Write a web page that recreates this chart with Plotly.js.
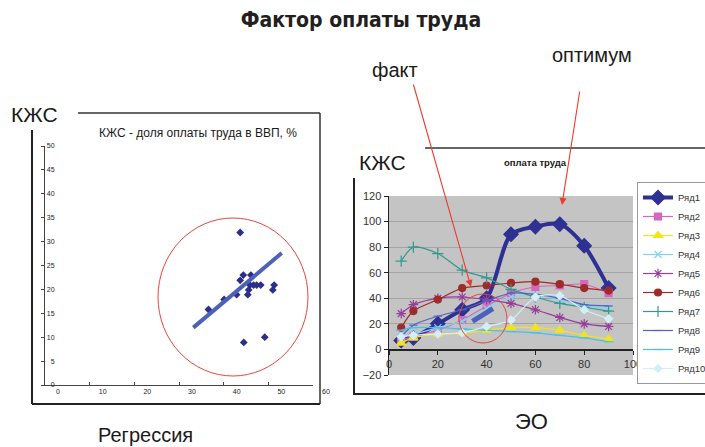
<!DOCTYPE html>
<html><head><meta charset="utf-8">
<script src="https://cdn.plot.ly/plotly-3.0.1.min.js"></script>
<style>html,body{margin:0;padding:0;background:#fff}#chart{width:705px;height:447px}</style>
</head><body><div id="chart"></div>
<script>
// ---- Left chart: regression scatter ----
const regX = [43.7, 36.6, 40.1, 42.9, 43.7, 44.4, 46.1, 45.9, 45.6, 45.4, 46.7, 47.4, 48.3, 51.0, 51.3, 44.5, 49.2];
const regY = [31.9, 15.8, 17.9, 18.9, 21.9, 23.0, 23.0, 20.9, 19.9, 18.9, 20.9, 20.9, 20.9, 19.9, 20.9, 8.9, 10.0];
const trendX = [33.2, 53.0];
const trendY = [12.0, 27.6];

// ---- Right chart: ЭО vs КЖС ----
const eoX = [5, 10, 20, 30, 40, 50, 60, 70, 80, 90];
const seriesNames = ['Ряд1','Ряд2','Ряд3','Ряд4','Ряд5','Ряд6','Ряд7','Ряд8','Ряд9','Ряд10'];
const r1  = [7, 9, 20, 31, 40, 90, 96, 98, 81, 48];
const r2  = [7, 10, 15, 23, 34, 44, 49, 50, 51, 44];
const r3  = [5, 9, 12, 13, 15, 17, 17, 15, 11, 8];
const r4  = [10, 12, 17, 22, 32, 41, 42, 39, 34, 32];
const r5  = [28, 35, 40, 41, 39, 36, 31, 25, 20, 18];
const r6  = [17, 30, 39, 48, 50, 52, 53, 51, 48, 46];
const r7  = [69, 80, 75, 62, 56, 47, 41, 36, 33, 30];
const r8  = [10, 19, 26, 31, 38, 44, 43, 40, 35, 34];
const r9  = [15, 17, 17, 16, 15, 14, 13, 11, 9, 6];
const r10 = [10, 11, 12, 13, 18, 23, 41, 42, 31, 24];
const factX = [34.2, 42.6];
const factY = [22, 32];

const tickLeftX = [0, 10, 20, 30, 40, 50, 60];
const tickRightX = [0, 20, 40, 60, 80, 100];

const W = 705, H = 447;
const px = v => v / W;
const py = v => 1 - v / H;
const FONT = 'Liberation Sans, Arial, sans-serif';

const styles = [
  {c:'#2e3192', w:4,   sym:'diamond',          ms:11},
  {c:'#d468bd', w:1.2, sym:'square',           ms:7},
  {c:'#f2e41c', w:1.2, sym:'triangle-up',      ms:8},
  {c:'#7fd6f0', w:1.2, sym:'x-thin-open',      ms:7},
  {c:'#963f99', w:1.2, sym:'asterisk-open',    ms:8},
  {c:'#9e2b2b', w:1.2, sym:'circle',           ms:7},
  {c:'#33998c', w:1.2, sym:'cross-thin-open',  ms:8},
  {c:'#5563c4', w:1.2, sym:'line-ew-open',     ms:6},
  {c:'#47c0ec', w:1.2, sym:'line-ew-open',     ms:7},
  {c:'#d4eef6', w:1.2, sym:'diamond',          ms:6}
];
const rows = [r1, r2, r3, r4, r5, r6, r7, r8, r9, r10];

const traces = [];
traces.push({x: regX, y: regY, type:'scatter', mode:'markers', xaxis:'x', yaxis:'y', showlegend:false,
  marker:{symbol:'diamond', size:6, color:'#2b2f87'}});
traces.push({x: trendX, y: trendY, type:'scatter', mode:'lines', xaxis:'x', yaxis:'y', showlegend:false,
  line:{color:'#4c62b8', width:4}});
rows.forEach((r, i) => {
  const s = styles[i];
  traces.push({x: eoX, y: r, name: seriesNames[i], type:'scatter', mode:'lines+markers', xaxis:'x2', yaxis:'y2',
    line:{color:s.c, width:s.w, shape:'spline', smoothing:0.8},
    marker:{symbol:s.sym, size:s.ms, color:s.c, line:{color:s.c, width:1.2}}});
});
traces.push({x: factX, y: factY, type:'scatter', mode:'lines', xaxis:'x2', yaxis:'y2', showlegend:false,
  line:{color:'#4c62b8', width:5}});

const frame = {type:'line', xref:'paper', yref:'paper', line:{color:'#333', width:1.5}};
const shapes = [
  // left frame
  Object.assign({}, frame, {x0:px(78), x1:px(320), y0:py(113), y1:py(113)}),
  Object.assign({}, frame, {x0:px(320), x1:px(320), y0:py(113), y1:py(404)}),
  Object.assign({}, frame, {x0:px(32), x1:px(320), y0:py(404), y1:py(404), line:{color:'#222', width:2}}),
  Object.assign({}, frame, {x0:px(32), x1:px(32), y0:py(130), y1:py(404), line:{color:'#222', width:2}}),
  // right frame
  Object.assign({}, frame, {x0:px(425), x1:px(705), y0:py(148), y1:py(148)}),
  Object.assign({}, frame, {x0:px(354), x1:px(354), y0:py(178), y1:py(394), line:{color:'#222', width:2}}),
  Object.assign({}, frame, {x0:px(353), x1:px(705), y0:py(394), y1:py(394), line:{color:'#222', width:2}}),
  // grey plot area of right chart
  {type:'rect', xref:'x2', yref:'y2', x0:0, x1:100, y0:-20, y1:120, fillcolor:'#c4c4c4', line:{width:0}, layer:'below'},
  // red circles
  {type:'circle', xref:'paper', yref:'paper', x0:px(158), x1:px(308), y0:py(376), y1:py(218), line:{color:'#e8463c', width:1}},
  {type:'circle', xref:'paper', yref:'paper', x0:px(459), x1:px(507), y0:py(343), y1:py(294), line:{color:'#e8463c', width:1}}
];

const txt = (t, x, y, size, extra) => Object.assign({text:t, xref:'paper', yref:'paper', x:px(x), y:py(y),
  xanchor:'center', yanchor:'middle', showarrow:false, font:{family:FONT, size:size, color:'#1a1a1a'}}, extra || {});
const annotations = [
  txt('факт', 395, 70, 20),
  txt('оптимум', 592, 55, 20),
  txt('КЖС', 34, 114, 21),
  txt('КЖС', 382, 163, 21),
  txt('КЖС - доля оплаты труда в ВВП, %', 198, 133, 12),
  txt('<b>оплата труда</b>', 535, 163, 9.5),
  txt('Регрессия', 145, 435, 20),
  txt('ЭО', 531, 421, 22),
  {text:' ', xref:'paper', yref:'paper', x:px(471), y:py(287), ax:-60, ay:-211, showarrow:true,
    arrowhead:2, arrowsize:1.3, arrowwidth:1.1, arrowcolor:'#ef3a2c', standoff:0, startstandoff:0},
  {text:' ', xref:'paper', yref:'paper', x:px(562), y:py(205), ax:19, ay:-122, showarrow:true,
    arrowhead:2, arrowsize:1.3, arrowwidth:1.1, arrowcolor:'#ef3a2c', standoff:0, startstandoff:0}
];

const layout = {
  width: W, height: H, autosize:false,
  margin:{l:0, r:0, t:0, b:0, pad:0, autoexpand:false},
  paper_bgcolor:'#fff', plot_bgcolor:'rgba(0,0,0,0)',
  font:{family:FONT, color:'#333'},
  title:{text:'<b>Фактор оплаты труда</b>', x:px(361), y:py(20), xanchor:'center', yanchor:'middle', xref:'paper', yref:'paper',
    font:{family:'Liberation Sans Narrow, DejaVu Sans Condensed, Arial Narrow, sans-serif', size:21, color:'#231f20'}},
  xaxis:{domain:[px(45), px(313)], range:[0, 60], tickvals:tickLeftX, ticks:'inside', ticklen:3, tickcolor:'#444',
    showline:true, linecolor:'#444', linewidth:1, showgrid:false, zeroline:false, ticklabelshift:13,
    tickfont:{size:7, color:'#222'}, anchor:'y', fixedrange:true},
  yaxis:{domain:[py(385), py(146)], range:[0, 50], dtick:5, ticks:'outside', ticklen:3, tickcolor:'#444',
    ticklabelstandoff:-15, showline:true, linecolor:'#444', linewidth:1, showgrid:false, zeroline:false,
    tickfont:{size:7, color:'#222'}, anchor:'x', fixedrange:true},
  xaxis2:{domain:[px(389), px(633)], range:[0, 100], tickvals:tickRightX, ticks:'outside', ticklen:4, tickcolor:'#222',
    showline:true, linecolor:'#222', linewidth:1.5, showgrid:false, zeroline:false, anchor:'free', position:py(349.3),
    tickfont:{size:11, color:'#333'}, fixedrange:true},
  yaxis2:{domain:[py(375), py(196)], range:[-20, 120], dtick:20, ticks:'outside', ticklen:4, tickcolor:'#222',
    showline:true, linecolor:'#222', linewidth:1.5, showgrid:true, gridcolor:'#a4a4a4', gridwidth:1, zeroline:false,
    tickfont:{size:11, color:'#333'}, anchor:'x2', fixedrange:true},
  legend:{x:px(637), y:py(283), xanchor:'left', yanchor:'middle', bgcolor:'#fff', bordercolor:'#999', borderwidth:1,
    font:{size:9.5, color:'#333'}, itemwidth:30, traceorder:'normal'},
  shapes: shapes,
  annotations: annotations
};

Plotly.newPlot('chart', traces, layout, {staticPlot:true, displayModeBar:false});
</script></body></html>
